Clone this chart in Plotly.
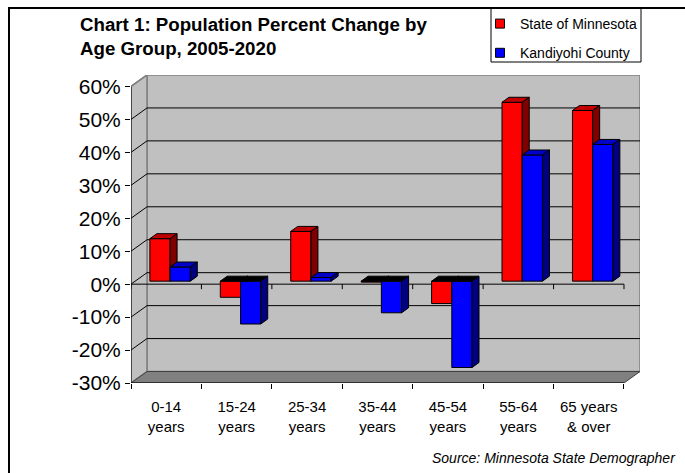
import plotly.graph_objects as go

# ---------------- data ----------------
categories = ["0-14<br>years", "15-24<br>years", "25-34<br>years", "35-44<br>years",
              "45-54<br>years", "55-64<br>years", "65 years<br>& over"]
minnesota = [12.9, -4.9, 15.1, -0.3, -6.8, 54.3, 51.8]
kandiyohi = [4.3, -13.0, 1.1, -9.6, -26.2, 38.3, 41.5]
series_names = ["State of Minnesota", "Kandiyohi County"]
y_ticks = [-30, -20, -10, 0, 10, 20, 30, 40, 50, 60]

# ---------------- geometry / style ----------------
W, H = 685, 473
L, R, T, B = 131, 45, 75, 90
plot_w = W - L - R
plot_h = H - T - B

n = len(categories)
y_min, y_max = -30, 60
px_per_y = (383 - 86) / (y_max - y_min)
wall_dy = 11.5 / px_per_y          # depth offset of back wall (in % units)
px_per_x = 70.4
wall_dx = 16 / px_per_x            # depth offset of back wall (in x units)
x_lo = -0.5
x_hi = n - 0.5 + wall_dx
y_hi = y_max + wall_dy

bar_w = 0.287
offs = [-0.232, 0.055]
bar_base = 3 / px_per_y
bdx = 7 / px_per_x
bdy = 5 / px_per_y

front_cols = ["#FF0000", "#0000FF"]
top_cols = ["#C00000", "#0000C8"]
side_cols = ["#800000", "#000080"]
neg_top = "#000000"


def px2paper_x(px):
    return (px - L) / plot_w


def px2paper_y(py):
    return (H - B - py) / plot_h


fig = go.Figure()

# legend entries (bars drawn as 3D polygons below)
for k, name in enumerate(series_names):
    fig.add_trace(go.Scatter(x=[None], y=[None], name=name, legendgroup=name, mode="markers",
                             marker=dict(symbol="square", size=9, color=front_cols[k],
                                         line=dict(color="black", width=1))))


def poly_trace(xs, ys, color):
    return go.Scatter(x=xs, y=ys, mode="lines", fill="toself", fillcolor=color,
                      line=dict(color="black", width=1), showlegend=False,
                      hoverinfo="skip")


for k, vals in enumerate([minnesota, kandiyohi]):
    fx, fy, tx, ty, tnx, tny, sx, sy = [], [], [], [], [], [], [], []
    for i, v in enumerate(vals):
        x0 = i + offs[k]
        x1 = x0 + bar_w
        b = bar_base
        top = b + v
        # front face
        fx += [x0, x1, x1, x0, x0, None]
        fy += [b, b, top, top, b, None]
        if v >= 0:
            tx += [x0, x1, x1 + bdx, x0 + bdx, x0, None]
            ty += [top, top, top + bdy, top + bdy, top, None]
            sx += [x1, x1, x1 + bdx, x1 + bdx, x1, None]
            sy += [b, top, top + bdy, b + bdy, b, None]
        else:
            tnx += [x0, x1, x1 + bdx, x0 + bdx, x0, None]
            tny += [b, b, b + bdy, b + bdy, b, None]
            sx += [x1, x1, x1 + bdx, x1 + bdx, x1, None]
            sy += [top, b, b + bdy, top + bdy, top, None]
    fig.add_trace(poly_trace(fx, fy, front_cols[k]))
    if tx:
        fig.add_trace(poly_trace(tx, ty, top_cols[k]))
    if tnx:
        fig.add_trace(poly_trace(tnx, tny, neg_top))
    fig.add_trace(poly_trace(sx, sy, side_cols[k]))

shapes = []
# back wall
shapes.append(dict(type="rect", xref="x", yref="y", layer="below",
                   x0=x_lo + wall_dx, x1=n - 0.5 + wall_dx,
                   y0=y_min + wall_dy, y1=y_max + wall_dy,
                   fillcolor="#C0C0C0", line=dict(color="#808080", width=1.5)))
# side wall
shapes.append(dict(type="path", xref="x", yref="y", layer="below",
                   path=f"M {x_lo},{y_min} L {x_lo + wall_dx},{y_min + wall_dy} "
                        f"L {x_lo + wall_dx},{y_max + wall_dy} L {x_lo},{y_max} Z",
                   fillcolor="#C0C0C0", line=dict(color="#808080", width=1.5)))
# floor
shapes.append(dict(type="path", xref="x", yref="y", layer="below",
                   path=f"M {x_lo},{y_min} L {n - 0.5},{y_min} L {n - 0.5 + wall_dx},{y_min + wall_dy} "
                        f"L {x_lo + wall_dx},{y_min + wall_dy} Z",
                   fillcolor="#808080", line=dict(color="#404040", width=1)))
# gridlines on walls
for g in y_ticks:
    if g in (y_min, y_max):
        continue
    shapes.append(dict(type="line", xref="x", yref="y", layer="below",
                       x0=x_lo + wall_dx, x1=n - 0.5 + wall_dx, y0=g + wall_dy, y1=g + wall_dy,
                       line=dict(color="black", width=1)))
    shapes.append(dict(type="line", xref="x", yref="y", layer="below",
                       x0=x_lo, x1=x_lo + wall_dx, y0=g, y1=g + wall_dy,
                       line=dict(color="black", width=1)))
# front axes
shapes.append(dict(type="line", xref="x", yref="y", layer="below",
                   x0=x_lo, x1=x_lo, y0=y_min, y1=y_max, line=dict(color="black", width=1)))
shapes.append(dict(type="line", xref="x", yref="y", layer="below",
                   x0=x_lo, x1=x_lo + wall_dx, y0=y_max, y1=y_max + wall_dy,
                   line=dict(color="#808080", width=1.5)))
shapes.append(dict(type="line", xref="x", yref="y", layer="below",
                   x0=x_lo, x1=n - 0.5, y0=y_min, y1=y_min, line=dict(color="black", width=1)))
shapes.append(dict(type="line", xref="x", yref="y", layer="below",
                   x0=x_lo, x1=n - 0.5, y0=0, y1=0, line=dict(color="black", width=1)))
tick_len = 5 / px_per_y
for i in range(n + 1):
    bx = i - 0.5
    shapes.append(dict(type="line", xref="x", yref="y", layer="below",
                       x0=bx, x1=bx, y0=0, y1=-tick_len, line=dict(color="black", width=1)))
# outer frame
shapes.append(dict(type="rect", xref="paper", yref="paper", layer="above",
                   x0=px2paper_x(9), x1=px2paper_x(700), y0=px2paper_y(490), y1=px2paper_y(8),
                   line=dict(color="black", width=2)))
# legend box
shapes.append(dict(type="rect", xref="paper", yref="paper", layer="above",
                   x0=px2paper_x(491), x1=px2paper_x(641), y0=px2paper_y(62), y1=px2paper_y(8),
                   line=dict(color="black", width=1)))

font_family = "Liberation Sans, Arial, sans-serif"

fig.update_layout(
    width=W, height=H, autosize=False,
    margin=dict(l=L, r=R, t=T, b=B, pad=0, autoexpand=False),
    paper_bgcolor="white", plot_bgcolor="rgba(0,0,0,0)",
    font=dict(family=font_family, color="black"),
    shapes=shapes,
    title=dict(text="<b>Chart 1: Population Percent Change by<br>Age Group, 2005-2020</b>",
               xref="container", yref="container", x=80 / W, y=1 - 31 / H,
               xanchor="left", yanchor="top", font=dict(size=18.7, family=font_family)),
    legend=dict(xref="paper", yref="paper", x=px2paper_x(480), y=px2paper_y(8),
                xanchor="left", yanchor="top", bgcolor="rgba(0,0,0,0)", borderwidth=0,
                font=dict(size=14, family=font_family), traceorder="grouped",
                tracegroupgap=8),
    annotations=[dict(text="<i>Source: Minnesota State Demographer</i>", xref="paper", yref="paper",
                      x=px2paper_x(678), y=px2paper_y(458), xanchor="right", yanchor="middle",
                      showarrow=False, font=dict(size=14, family=font_family))],
    showlegend=True,
)

fig.update_xaxes(range=[x_lo, x_hi], tickmode="array", tickvals=list(range(n)),
                 ticktext=categories, ticks="", showgrid=False, zeroline=False, showline=False,
                 tickfont=dict(size=15), ticklabelstandoff=13, tickangle=0,
                 minor=dict(tickmode="array", tickvals=[i - 0.5 for i in range(n + 1)],
                            ticks="outside", ticklen=5, tickcolor="black", showgrid=False))
fig.update_yaxes(range=[y_min, y_hi], tickmode="array", tickvals=y_ticks,
                 ticktext=[f"{t}%" for t in y_ticks], ticks="outside", ticklen=5,
                 tickcolor="black", showgrid=False, zeroline=False, showline=False,
                 tickfont=dict(size=21))

fig.write_html("out.html", post_script="document.body.style.margin='0';",
               config={"displayModeBar": False})
